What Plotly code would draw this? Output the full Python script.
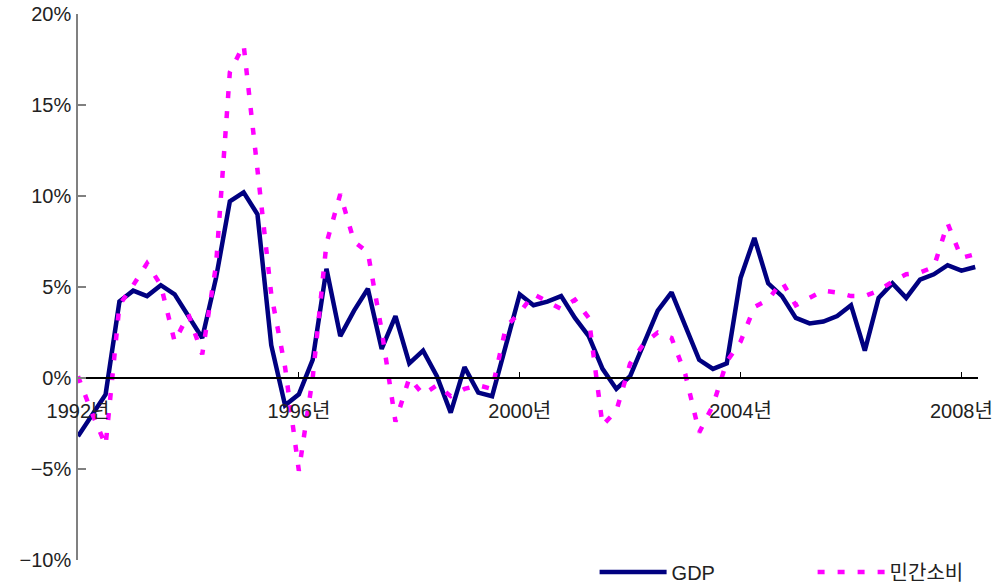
import plotly.graph_objects as go

quarters = [f"{y}Q{q}" for y in range(1992, 2009) for q in range(1, 5)][:66]

gdp = [-3.2, -2.0, -0.9, 4.2, 4.8, 4.5, 5.1, 4.6, 3.4, 2.2,
       5.5, 9.7, 10.2, 9.0, 1.8, -1.5, -0.9, 1.0, 6.0, 2.3,
       3.7, 4.9, 1.6, 3.4, 0.8, 1.5, 0.1, -1.9, 0.6, -0.8,
       -1.0, 1.8, 4.6, 4.0, 4.2, 4.5, 3.3, 2.3, 0.5, -0.6,
       0.1, 1.9, 3.7, 4.7, 2.8, 1.0, 0.5, 0.8, 5.5, 7.7,
       5.2, 4.5, 3.3, 3.0, 3.1, 3.4, 4.0, 1.5, 4.4, 5.2,
       4.4, 5.4, 5.7, 6.2, 5.9, 6.1]

consumption = [0.1, -1.9, -3.7, 4.0, 5.1, 6.3, 5.1, 2.0, 3.5, 1.3,
               6.2, 16.8, 18.3, 11.6, 4.6, 0.6, -5.1, 0.0, 7.4, 10.1,
               7.5, 6.9, 2.6, -2.4, 0.0, -0.9, -0.4, -1.0, -0.6, -0.4,
               -0.6, 2.8, 3.6, 4.6, 4.2, 3.8, 4.3, 3.3, -2.6, -1.8,
               0.8, 1.9, 2.5, 2.2, 0.2, -3.0, -1.5, 0.9, 2.0, 3.9,
               4.3, 5.3, 4.0, 4.4, 4.8, 4.7, 4.5, 4.5, 4.8, 5.3,
               5.7, 5.8, 6.1, 8.5, 6.6, 6.8]

tick_quarters = ["1992Q1", "1996Q1", "2000Q1", "2004Q1", "2008Q1"]
tick_labels = ["1992년", "1996년", "2000년", "2004년", "2008년"]

FONT = "Liberation Sans, Arial, Noto Sans CJK KR, sans-serif"

fig = go.Figure()
fig.add_trace(go.Scatter(
    x=quarters, y=gdp, name="GDP", mode="lines",
    line=dict(color="#000080", width=4.5),
))
fig.add_trace(go.Scatter(
    x=quarters, y=consumption, name="민간소비", mode="lines",
    line=dict(color="#FF00FF", width=4.5, dash="7px,13px"),
))

fig.update_layout(
    width=992, height=583,
    margin=dict(l=78, r=14, t=14, b=23, autoexpand=False),
    paper_bgcolor="white", plot_bgcolor="white",
    font=dict(family=FONT, size=20, color="#222222"),
    showlegend=True,
    legend=dict(
        orientation="h", x=0.574, xanchor="left", y=-0.022, yanchor="middle",
        itemwidth=67, entrywidth=136, entrywidthmode="pixels",
        bgcolor="rgba(0,0,0,0)", font=dict(family=FONT, size=20, color="#222222"),
    ),
    xaxis=dict(
        type="category", range=[0, 65.2],
        tickmode="array", tickvals=tick_quarters, ticktext=tick_labels,
        anchor="free", position=1/3,
        showline=True, linecolor="#000000", linewidth=1.5,
        ticks="inside", ticklen=5, tickcolor="#000000", tickwidth=1,
        showgrid=False, zeroline=False, ticklabelstandoff=15,
        ticklabeloverflow="allow",
    ),
    yaxis=dict(
        range=[-10, 20], dtick=5, ticksuffix="%",
        showline=True, linecolor="#808080", linewidth=1.5,
        ticks="inside", ticklen=8, tickcolor="#808080", tickwidth=1.5,
        showgrid=False, zeroline=False, ticklabelstandoff=1,
        ticklabeloverflow="allow",
    ),
)

fig.write_html(
    "out.html",
    config={"displayModeBar": False},
    post_script="document.body.style.margin='0';document.body.style.overflow='hidden';",
)
